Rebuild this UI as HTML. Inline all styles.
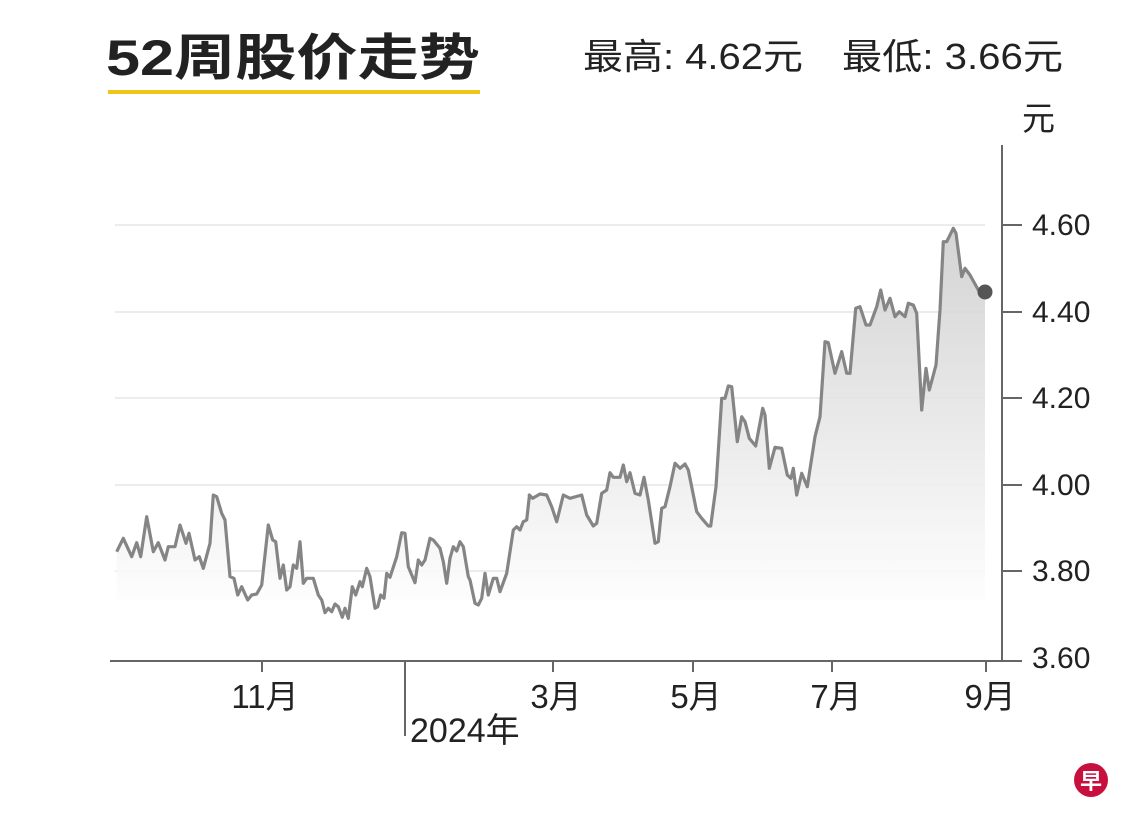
<!DOCTYPE html>
<html><head><meta charset="utf-8"><style>
html,body{margin:0;padding:0;background:#fff;}
body{width:1140px;height:829px;overflow:hidden;position:relative;font-family:"Liberation Sans","Noto Sans CJK SC",sans-serif;}
</style></head><body>
<svg width="1140" height="829" viewBox="0 0 1140 829" xmlns="http://www.w3.org/2000/svg" style="position:absolute;left:0;top:0">
<defs>
<linearGradient id="g" x1="0" y1="0" x2="0" y2="1">
<stop offset="0" stop-color="#cfcfcf" stop-opacity="0.9"/>
<stop offset="1" stop-color="#ffffff" stop-opacity="0.9"/>
</linearGradient>
</defs>
<text x="106" y="75" font-size="50" font-weight="bold" fill="#222" font-family="Liberation Sans, Noto Sans CJK SC, sans-serif" textLength="374" lengthAdjust="spacingAndGlyphs">52周股价走势</text>
<rect x="108" y="90" width="372" height="4" fill="#f2c318"/>
<text x="583" y="69" font-size="36" fill="#222" font-family="Liberation Sans, Noto Sans CJK SC, sans-serif" textLength="220" lengthAdjust="spacingAndGlyphs">最高: 4.62元</text>
<text x="842" y="69" font-size="36" fill="#222" font-family="Liberation Sans, Noto Sans CJK SC, sans-serif" textLength="221" lengthAdjust="spacingAndGlyphs">最低: 3.66元</text>
<text x="1022" y="130" font-size="33" fill="#222" font-family="Liberation Sans, Noto Sans CJK SC, sans-serif">元</text>
<g stroke="#ececec" stroke-width="2">
<line x1="115" y1="225" x2="985" y2="225"/>
<line x1="115" y1="312" x2="985" y2="312"/>
<line x1="115" y1="398" x2="985" y2="398"/>
<line x1="115" y1="485" x2="985" y2="485"/>
<line x1="115" y1="571" x2="985" y2="571"/>
</g>
<path id="area" fill="url(#g)" stroke="none"/>
<polyline id="ln" fill="none" stroke="#858585" stroke-width="3.2" stroke-linejoin="round"/>
<circle cx="985" cy="292" r="7.5" fill="#555"/>
<g stroke="#666" stroke-width="2">
<line x1="1002" y1="145" x2="1002" y2="661"/>
<line x1="110" y1="661" x2="1022" y2="661"/>
<line x1="1002" y1="225" x2="1022" y2="225"/>
<line x1="1002" y1="312" x2="1022" y2="312"/>
<line x1="1002" y1="398" x2="1022" y2="398"/>
<line x1="1002" y1="485" x2="1022" y2="485"/>
<line x1="1002" y1="571" x2="1022" y2="571"/>
<line x1="262" y1="661" x2="262" y2="672"/>
<line x1="405" y1="661" x2="405" y2="736"/>
<line x1="553" y1="661" x2="553" y2="672"/>
<line x1="693" y1="661" x2="693" y2="672"/>
<line x1="832" y1="661" x2="832" y2="672"/>
<line x1="986" y1="661" x2="986" y2="672"/>
</g>
<g font-size="30" fill="#222" font-family="Liberation Sans, Noto Sans CJK SC, sans-serif">
<text x="1032" y="235">4.60</text>
<text x="1032" y="322">4.40</text>
<text x="1032" y="408">4.20</text>
<text x="1032" y="495">4.00</text>
<text x="1032" y="581">3.80</text>
<text x="1032" y="668">3.60</text>
</g>
<g font-size="33" fill="#222" font-family="Liberation Sans, Noto Sans CJK SC, sans-serif" text-anchor="middle">
<text x="265" y="708">11月</text>
<text x="556" y="708">3月</text>
<text x="696" y="708">5月</text>
<text x="836" y="708">7月</text>
<text x="990" y="708">9月</text>
</g>
<text x="410" y="742" font-size="34" fill="#222" font-family="Liberation Sans, Noto Sans CJK SC, sans-serif">2024年</text>
<circle cx="1091" cy="780" r="17" fill="#c8103e"/>
<text x="1091" y="789" font-size="22" font-weight="bold" fill="#fff" text-anchor="middle" font-family="Noto Sans CJK SC, sans-serif">早</text>
</svg>
<script>
var z1=[[20,215],[40,175],[65,230],[80,188],[92,230],[110,110],[130,215],[145,188],[165,240],[175,200],[195,200],[210,135],[228,190],[237,160],[255,240],[268,230],[280,265],[300,190],[310,45],[320,50],[335,100],[345,120],[360,290],[372,295],[383,345],[395,320],[413,360],[425,345],[440,342],[455,315],[475,135],[488,180],[497,185],[510,295],[520,255],[530,330],[540,320],[550,255],[560,265],[570,185],[580,310],[590,295],[610,295],[625,345],[635,360],[645,398],[655,385],[665,395],[675,372],[685,380],[697,412],[705,385],[715,415],[727,320],[737,345],[750,305],[757,320],[770,265],[780,290],[795,385],[803,380],[812,345],[822,355],[830,280],[840,292],[860,230],[875,158],[885,160],[895,260],[915,308],[925,240],[935,255],[945,240],[960,175],[970,180],[990,205],[1000,245],[1010,310],[1020,235],[1030,200],[1040,213],[1050,185],[1060,200],[1075,290],[1080,300],[1095,370],[1105,375],[1115,355],[1125,280],[1135,345],[1150,295],[1160,295],[1170,335],[1190,280],[1210,150],[1220,140],[1230,150],[1240,125],[1250,120],[1258,50]];
var z2=[[88,405],[98,415],[120,402],[140,405],[155,440],[170,485],[190,405],[210,415],[245,405],[260,465],[280,498],[290,490],[305,400],[320,390],[330,338],[340,352],[360,352],[370,315],[380,365],[390,338],[405,400],[420,405],[432,352],[445,420],[465,550],[475,545],[485,445],[495,440],[510,380],[525,310],[540,325],[555,312],[565,330],[590,455],[605,475],[625,498],[632,498],[648,380],[665,115],[675,115],[685,78],[695,80],[712,245],[725,170],[735,185],[748,235],[767,258],[788,145],[795,165],[808,325],[825,262],[845,265],[862,345],[873,355],[880,325],[890,405],[905,340],[922,380]];
var z3=[[22,830],[45,680],[60,620],[75,395],[85,398],[105,490],[125,425],[140,490],[150,490],[167,295],[180,290],[198,345],[210,345],[230,290],[242,240],[255,300],[270,265],[285,320],[298,305],[315,320],[325,280],[340,285],[350,310],[365,600],[378,475],[388,540],[408,465],[420,300],[430,95],[440,95],[460,55],[468,70],[485,200],[495,175],[510,195],[535,240],[555,248]];
var pts=[];
z1.forEach(function(p){pts.push([110+p[0]/3,480+p[1]/3]);});
z2.forEach(function(p){pts.push([500+p[0]/3,360+p[1]/3]);});
z3.forEach(function(p){pts.push([800+p[0]/3,210+p[1]/3]);});
pts.push([985,292]);
var s=pts.map(function(p){return p[0].toFixed(1)+","+p[1].toFixed(1);}).join(" ");
document.getElementById("ln").setAttribute("points",s);
document.getElementById("area").setAttribute("d","M"+pts[0][0]+",600 L"+s.split(" ").join(" L")+" L985,600 Z");
</script>
</body></html>
